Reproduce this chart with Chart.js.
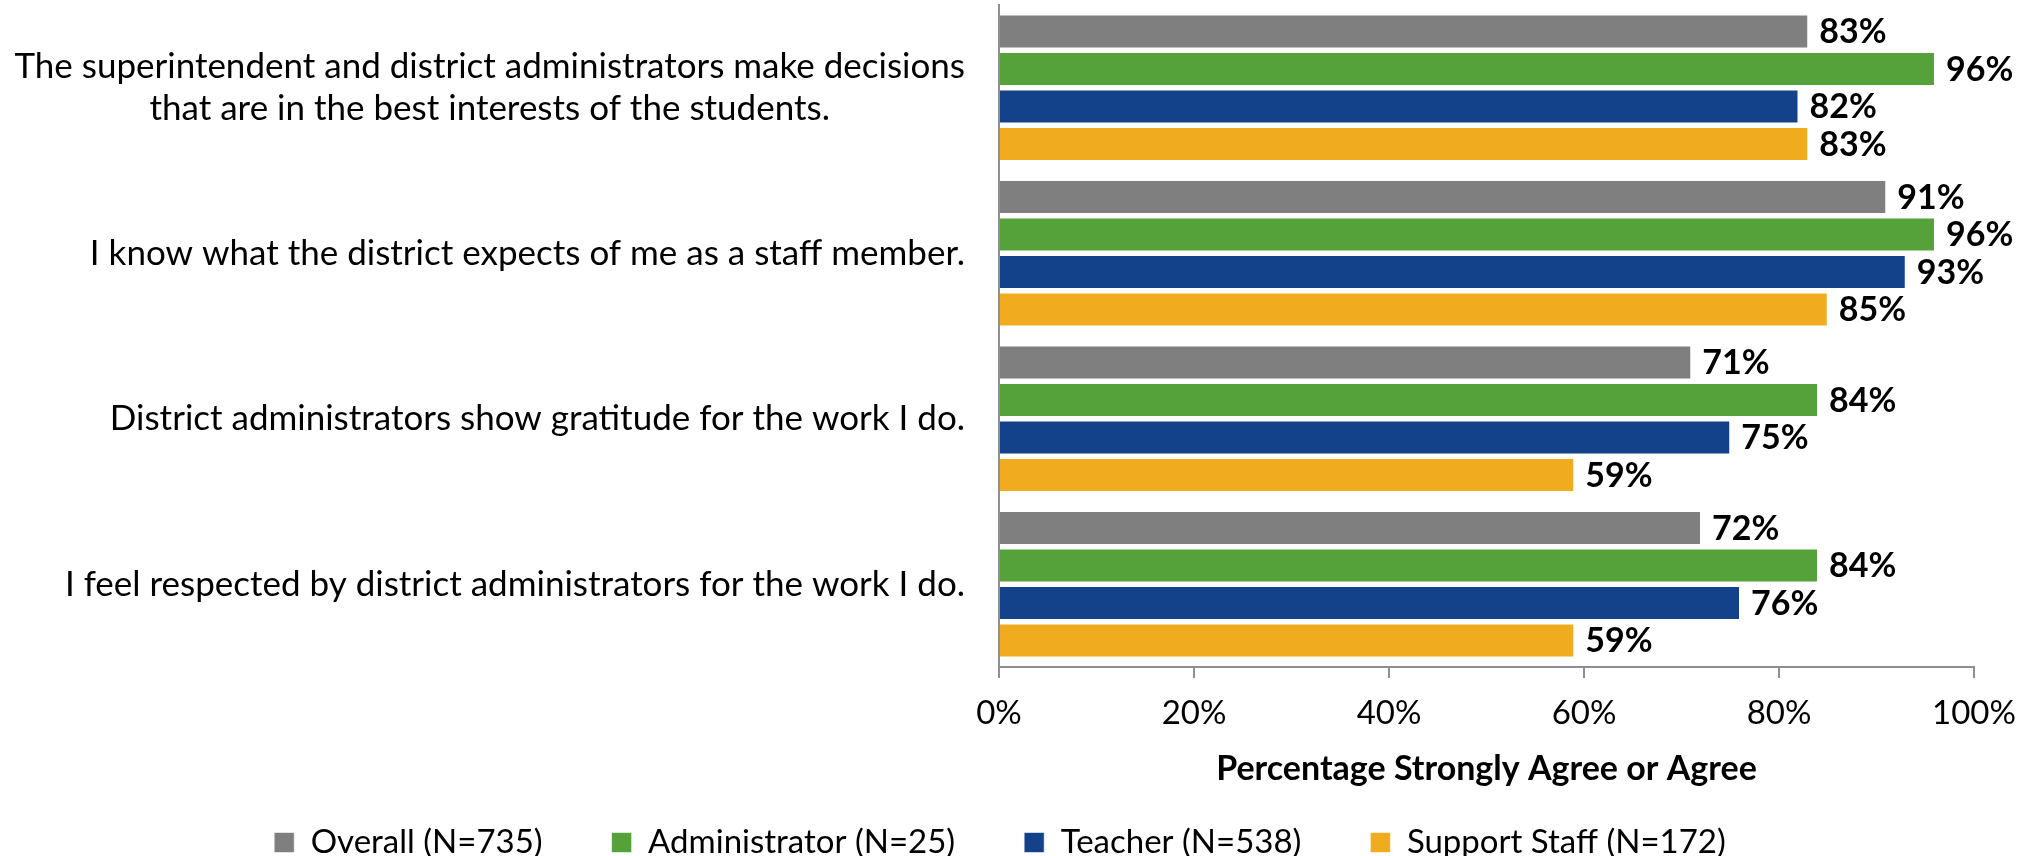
<!DOCTYPE html>
<html>
<head>
<meta charset="utf-8">
<script src="https://cdn.jsdelivr.net/npm/chart.js@4.4.1/dist/chart.umd.min.js"></script>
<style>
  html, body { margin: 0; padding: 0; background: #fff; }
  #wrap { width: 2041px; height: 856px; }
</style>
</head>
<body>
<div id="wrap"><canvas id="surveyChart"></canvas></div>
<script>
// categories (one array of lines per statement)
const categories = [
    ["The superintendent and district administrators make decisions", "that are in the best interests of the students."],
    ["I know what the district expects of me as a staff member."],
    ["District administrators show gratitude for the work I do."],
    ["I feel respected by district administrators for the work I do."]
];
const seriesNames = ["Overall (N=735)", "Administrator (N=25)", "Teacher (N=538)", "Support Staff (N=172)"];
const overall = [83, 91, 71, 72];
const administrator = [96, 96, 84, 84];
const teacher = [82, 93, 75, 76];
const supportStaff = [83, 85, 59, 59];
const xTicks = [0, 20, 40, 60, 80, 100];
const seriesColors = ["#7f7f7f", "#55a13a", "#13428a", "#f0ab1e"];

const FONT = "Lato";
const axisColor = "#8f8f8f";

// value labels at the end of each bar
const barValueLabels = {
    id: "barValueLabels",
    afterDatasetsDraw(chart) {
        const ctx = chart.ctx;
        ctx.save();
        ctx.font = "bold 34px " + FONT;
        ctx.fillStyle = "#000";
        ctx.textAlign = "left";
        ctx.textBaseline = "middle";
        chart.data.datasets.forEach((ds, i) => {
            chart.getDatasetMeta(i).data.forEach((bar, j) => {
                ctx.fillText(ds.data[j] + "%", bar.x + 11, bar.y + 1);
            });
        });
        ctx.restore();
    }
};

// category labels: block right aligned, lines centred inside the block
const categoryLabels = {
    id: "categoryLabels",
    afterDraw(chart) {
        const ctx = chart.ctx;
        const scale = chart.scales.y;
        const lineHeight = 42;
        ctx.save();
        ctx.font = "35px " + FONT;
        ctx.fillStyle = "#000";
        ctx.textAlign = "center";
        ctx.textBaseline = "middle";
        categories.forEach((lines, i) => {
            const yc = scale.getPixelForValue(i);
            const widest = Math.max(...lines.map(l => ctx.measureText(l).width));
            const cx = scale.right - 34 - widest / 2;
            lines.forEach((l, k) => {
                ctx.fillText(l, cx, yc + (k - (lines.length - 1) / 2) * lineHeight);
            });
        });
        ctx.restore();
    }
};

// move the legend row up/right to where it sits in the original
// (only the top edge moves up so the legend clip box still holds the row)
const legendShift = {
    id: "legendShift",
    afterLayout(chart) {
        const lg = chart.legend;
        lg.top -= 43;
        lg.left += 8; lg.right += 8;
    }
};

const seriesData = [overall, administrator, teacher, supportStaff];

document.fonts.load("33px " + FONT).then(() => document.fonts.load("bold 33px " + FONT)).finally(() => {
    const ctx = document.getElementById("surveyChart").getContext("2d");
    new Chart(ctx, {
        type: "bar",
        data: {
            labels: categories,
            datasets: seriesNames.map((name, i) => ({
                label: name,
                data: seriesData[i],
                backgroundColor: seriesColors[i],
                borderColor: "rgba(255,255,255,0.55)",
                borderWidth: 1,
                categoryPercentage: 0.906,
                barPercentage: 0.905
            }))
        },
        options: {
            indexAxis: "y",
            responsive: true,
            maintainAspectRatio: false,
            animation: false,
            layout: { padding: { left: 10, right: 67, top: 5, bottom: 0 } },
            scales: {
                x: {
                    min: 0,
                    max: 100,
                    afterBuildTicks: (scale) => { scale.ticks = xTicks.map(v => ({ value: v })); },
                    ticks: {
                        callback: (v) => v + "%",
                        color: "#000",
                        font: { family: FONT, size: 33 },
                        padding: 16,
                        maxRotation: 0
                    },
                    grid: { drawOnChartArea: false, drawTicks: true, tickLength: 11, color: axisColor, lineWidth: 2 },
                    border: { display: true, color: axisColor, width: 2 },
                    title: {
                        display: true,
                        text: "Percentage Strongly Agree or Agree",
                        color: "#000",
                        font: { family: FONT, size: 34, weight: "bold" },
                        padding: { top: 0, bottom: 11 }
                    },
                    afterFit: (scale) => { scale.height = 133; }
                },
                y: {
                    ticks: { display: false },
                    grid: { display: false },
                    border: { display: true, color: axisColor, width: 2 },
                    afterFit: (scale) => { scale.width = 989; }
                }
            },
            plugins: {
                legend: {
                    position: "bottom",
                    maxHeight: 56,
                    labels: {
                        color: "#000",
                        font: { family: FONT, size: 33 },
                        boxWidth: 20,
                        boxHeight: 20,
                        padding: 69
                    }
                },
                tooltip: { enabled: false }
            }
        },
        plugins: [barValueLabels, categoryLabels, legendShift]
    });
});
</script>
</body>
</html>
